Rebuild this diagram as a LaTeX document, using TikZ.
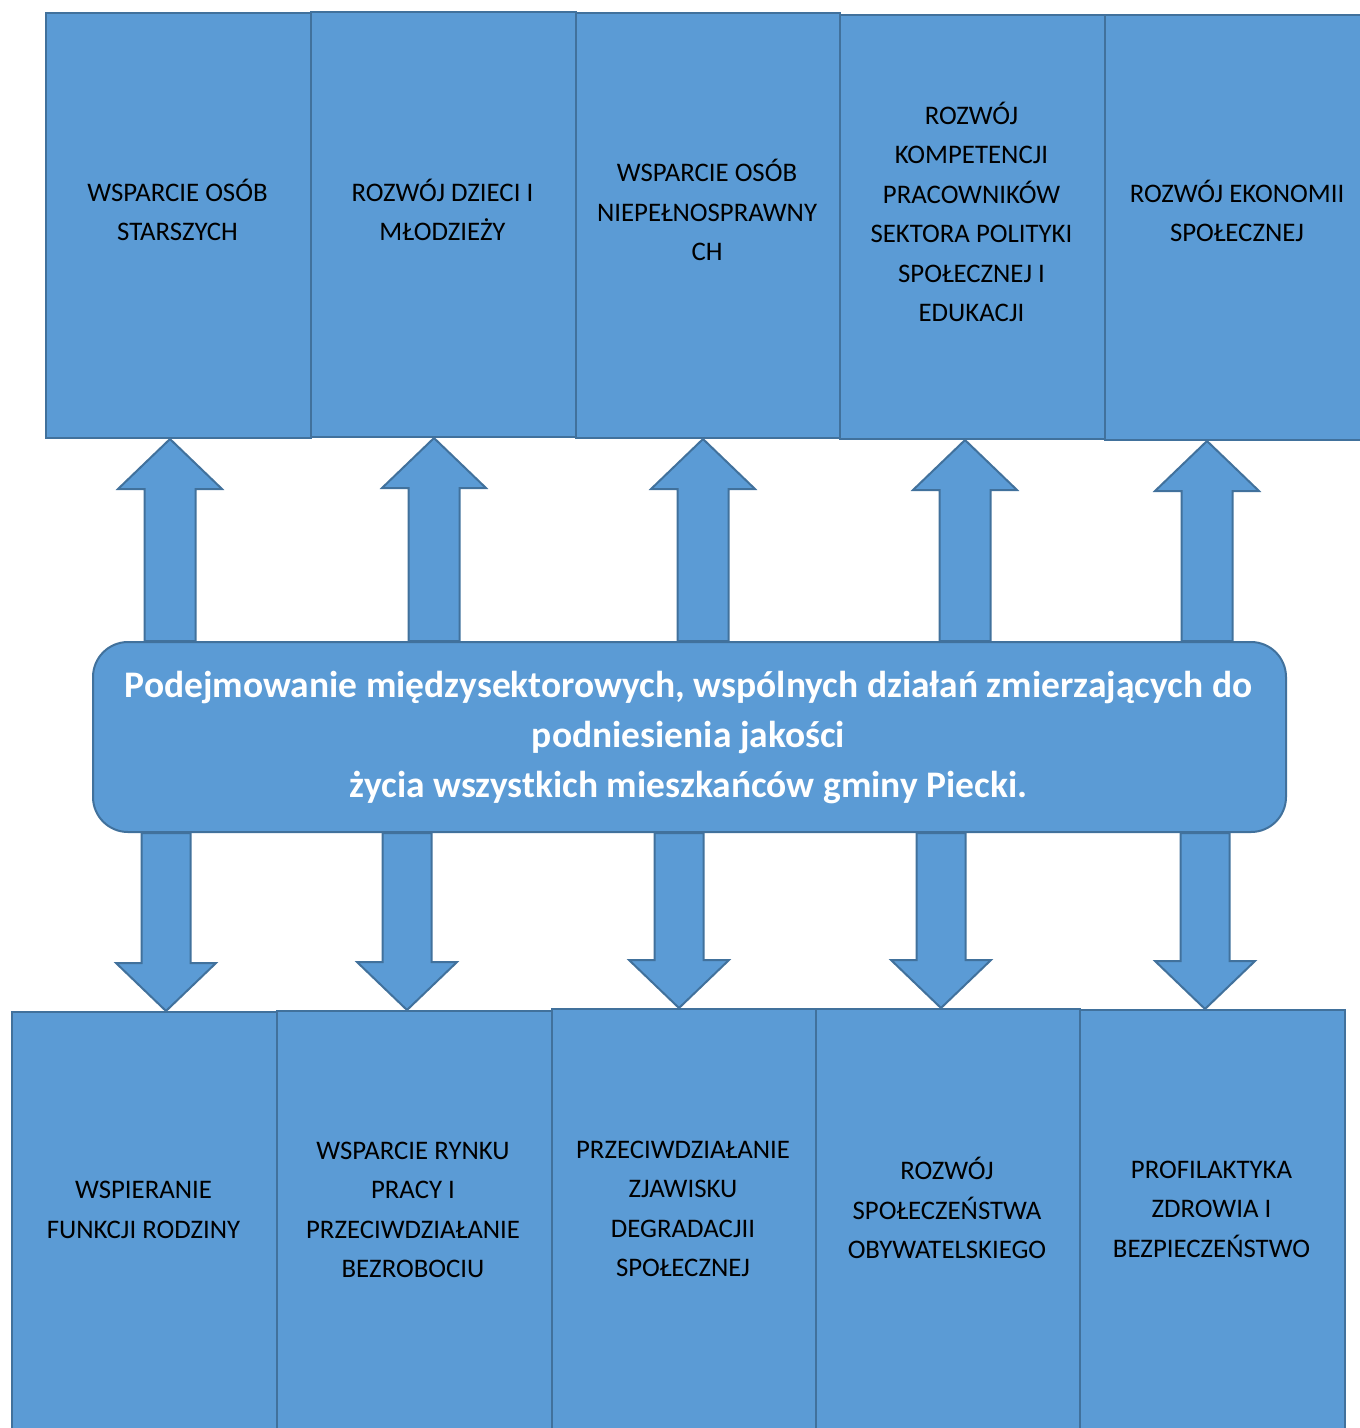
\documentclass[tikz,border=0pt]{standalone}
\usepackage{fontspec}
\setmainfont{Carlito}
\usetikzlibrary{calc}
\definecolor{boxfill}{HTML}{5B9BD5}
\definecolor{boxline}{HTML}{41719C}
\newcommand\uparrblk[3]{%
  \draw[blk] let \p1=(#2.south), \p2=(#3.north) in
    (#1pt-25.5pt,\y2) -- (#1pt-25.5pt,\y1-50pt) -- (#1pt-52pt,\y1-50pt) -- (#1pt,\y1)
    -- (#1pt+52pt,\y1-50pt) -- (#1pt+25.5pt,\y1-50pt) -- (#1pt+25.5pt,\y2) -- cycle;}
\newcommand\downarrblk[3]{%
  \draw[blk] let \p1=(#2.south), \p2=(#3.north) in
    (#1pt-24.5pt,\y1) -- (#1pt-24.5pt,\y2+48pt) -- (#1pt-50pt,\y2+48pt) -- (#1pt,\y2)
    -- (#1pt+50pt,\y2+48pt) -- (#1pt+24.5pt,\y2+48pt) -- (#1pt+24.5pt,\y1) -- cycle;}
\begin{document}
\begin{tikzpicture}[x=1pt,y=-1pt,
  box/.style={draw=boxline, fill=boxfill, line width=2pt, rectangle, anchor=north west, inner sep=0pt},
  lbl/.style={align=center, font=\fontsize{26.8}{39.5}\selectfont, text=black},
  mainlbl/.style={align=center, font=\fontsize{37.5}{50}\selectfont\bfseries, text=white},
  blk/.style={draw=boxline, fill=boxfill, line width=2pt, line join=miter}]
\useasboundingbox (0,0) rectangle (1360,1428);
\clip (0,0) rectangle (1360,1428);
% top boxes
\node[box, minimum width=265pt, minimum height=425pt] (t1) at (45,12) {};
\node[box, minimum width=265pt, minimum height=425pt] (t2) at (310,11) {};
\node[box, minimum width=264pt, minimum height=425pt] (t3) at (575,12) {};
\node[box, minimum width=265pt, minimum height=424pt] (t4) at (839,14) {};
\node[box, minimum width=265pt, minimum height=425pt] (t5) at (1104,14) {};
\node[lbl] (l1) at (177.5,210) {WSPARCIE OSÓB\\STARSZYCH};
\node[lbl] (l2) at (442.5,210) {ROZWÓJ DZIECI I\\MŁODZIEŻY};
\node[lbl] (l3) at (707,210) {WSPARCIE OSÓB\\NIEPEŁNOSPRAWNY\\CH};
\node[lbl] (l4) at (971.5,212) {ROZWÓJ\\KOMPETENCJI\\PRACOWNIKÓW\\SEKTORA POLITYKI\\SPOŁECZNEJ I\\EDUKACJI};
\node[lbl] (l5) at (1237,211) {ROZWÓJ EKONOMII\\SPOŁECZNEJ};
% center box
\node[box, rounded corners=35pt, minimum width=1193pt, minimum height=190pt] (c) at (92,641) {};
\node[mainlbl] (cl) at (688.5,738) {Podejmowanie międzysektorowych, wspólnych działań zmierzających do\\podniesienia jakości\\życia wszystkich mieszkańców gminy Piecki.};
% bottom boxes
\node[box, minimum width=265pt, minimum height=500pt] (b1) at (11,1011) {};
\node[box, minimum width=275pt, minimum height=500pt] (b2) at (276,1010) {};
\node[box, minimum width=264pt, minimum height=500pt] (b3) at (551,1008) {};
\node[box, minimum width=264pt, minimum height=500pt] (b4) at (815,1008) {};
\node[box, minimum width=265pt, minimum height=500pt] (b5) at (1079,1009) {};
\node[lbl] (m1) at (143.5,1210) {WSPIERANIE\\FUNKCJI RODZINY};
\node[lbl] (m2) at (413,1210) {WSPARCIE RYNKU\\PRACY I\\PRZECIWDZIAŁANIE\\BEZROBOCIU};
\node[lbl] (m3) at (683,1209) {PRZECIWDZIAŁANIE\\ZJAWISKU\\DEGRADACJII\\SPOŁECZNEJ};
\node[lbl] (m4) at (947,1208) {ROZWÓJ\\SPOŁECZEŃSTWA\\OBYWATELSKIEGO};
\node[lbl] (m5) at (1211.5,1209) {PROFILAKTYKA\\ZDROWIA I\\BEZPIECZEŃSTWO};
% arrows
\uparrblk{170}{t1}{c}
\uparrblk{434}{t2}{c}
\uparrblk{703}{t3}{c}
\uparrblk{965}{t4}{c}
\uparrblk{1207}{t5}{c}
\downarrblk{166}{c}{b1}
\downarrblk{407}{c}{b2}
\downarrblk{679}{c}{b3}
\downarrblk{941}{c}{b4}
\downarrblk{1205}{c}{b5}
\end{tikzpicture}
\end{document}
